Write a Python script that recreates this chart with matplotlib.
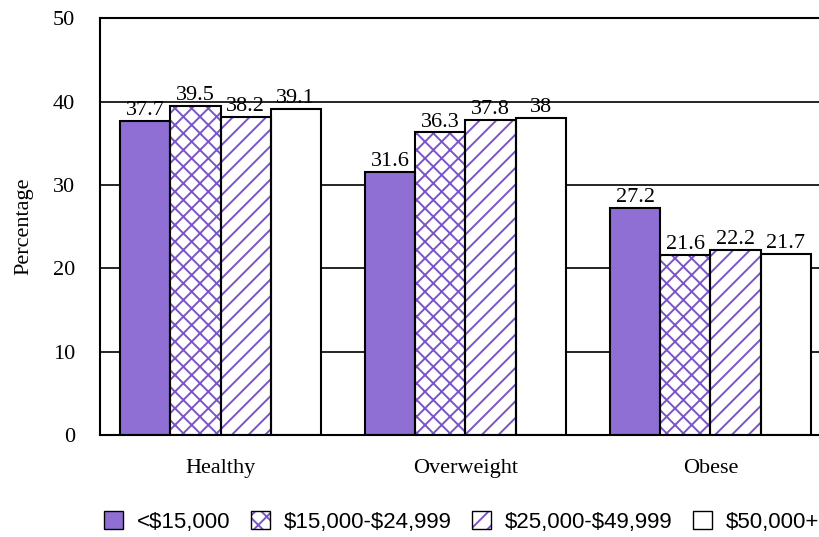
import numpy as np
import matplotlib
matplotlib.use("Agg")
import matplotlib.pyplot as plt
from matplotlib.patches import Patch

# Datos
categorias = ["Healthy", "Overweight", "Obese"]
grupos = ["<$15,000", "$15,000-$24,999", "$25,000-$49,999", "$50,000+"]
menos_15 = [37.7, 31.6, 27.2]
de_15_25 = [39.5, 36.3, 21.6]
de_25_50 = [38.2, 37.8, 22.2]
mas_50 = [39.1, 38.0, 21.7]
series = [menos_15, de_15_25, de_25_50, mas_50]
etiquetas_y = [0, 10, 20, 30, 40, 50]

morado = "#7a55c8"
rellenos = ["#8f6fd4", "white", "white", "white"]
tramas = [None, "xx", "//", None]

plt.rcParams["font.family"] = ["Liberation Serif", "DejaVu Serif"]
plt.rcParams["font.size"] = 16
plt.rcParams["hatch.linewidth"] = 1.4
plt.rcParams["text.parse_math"] = False

fig = plt.figure(figsize=(8.2, 5.37), dpi=100)
ax = fig.add_axes([0.122, 0.19, 0.896, 0.776])

x = np.arange(len(categorias))
ancho = 0.205
for i, valores in enumerate(series):
    pos = x + (i - 1.5) * ancho
    # capa de relleno con trama morada
    ax.bar(pos, valores, ancho, color=rellenos[i], hatch=tramas[i],
           edgecolor=morado, linewidth=0, zorder=2)
    # contorno negro
    ax.bar(pos, valores, ancho, fill=False, edgecolor="black",
           linewidth=1.5, zorder=3)
    for xi, v in zip(pos, valores):
        ax.text(xi, v + 0.1, f"{v:g}", ha="center", va="bottom", fontsize=16)

ax.set_xlim(-0.492, 2.508)
ax.set_ylim(0, 50)
ax.set_yticks(etiquetas_y)
ax.set_xticks(x)
ax.set_xticklabels(categorias)
ax.tick_params(axis="both", length=0, labelsize=16)
ax.tick_params(axis="x", pad=17)
ax.tick_params(axis="y", pad=18)
for t in etiquetas_y[1:-1]:
    ax.axhline(t, color="black", linewidth=1.2, zorder=1)
for s in ax.spines.values():
    s.set_linewidth(1.5)
ax.set_ylabel("Percentage", fontsize=16, labelpad=14)

# Leyenda: trama morada con contorno negro
manijas = [(Patch(facecolor=rellenos[i], hatch=tramas[i], edgecolor=morado,
                  linewidth=0),
            Patch(fill=False, edgecolor="black", linewidth=1.0))
           for i in range(4)]
fig.legend(manijas, grupos, loc="center", bbox_to_anchor=(0.563, 0.028),
           ncol=4, frameon=False, handlelength=0.85, handleheight=0.85,
           handletextpad=0.6, columnspacing=0.95,
           prop={"family": ["Liberation Sans", "DejaVu Sans"], "size": 16})

fig.savefig("out.png", dpi=100)
